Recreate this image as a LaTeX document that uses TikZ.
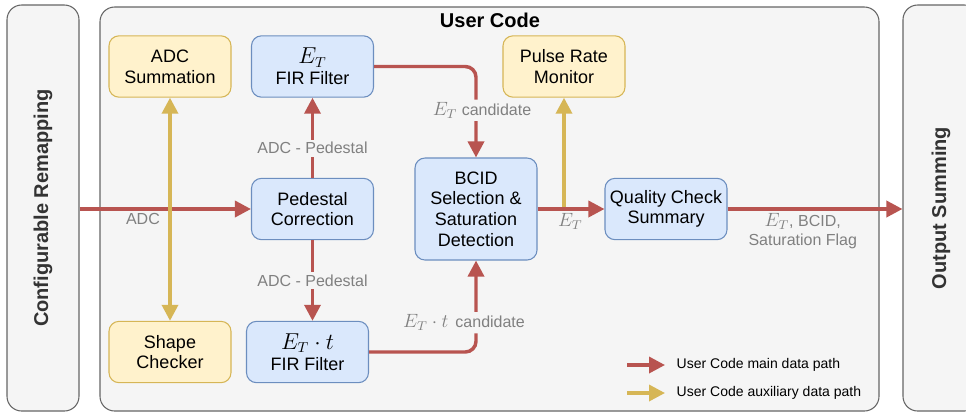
\documentclass[tikz,border=0pt]{standalone}
\usepackage{fontspec}
\setmainfont{Liberation Sans}
\usepackage{amsmath}
\usepackage{graphicx}
\usepackage{tikz}
\usetikzlibrary{arrows.meta,calc,positioning}
\definecolor{panelbg}{HTML}{F5F5F5}
\definecolor{paneledge}{HTML}{666666}
\definecolor{blfill}{HTML}{DAE8FC}
\definecolor{bledge}{HTML}{6C8EBF}
\definecolor{ylfill}{HTML}{FFF2CC}
\definecolor{yledge}{HTML}{D6B656}
\definecolor{mainred}{HTML}{B85450}
\definecolor{lblgray}{HTML}{808080}
\definecolor{sidetext}{HTML}{333333}
\newcommand{\mbig}[1]{\scalebox{1.2}{$#1$}}

\begin{document}
\begin{tikzpicture}[x=0.75pt,y=-0.75pt,
  panel/.style={draw=paneledge,fill=panelbg,rounded corners=11pt,line width=0.8pt},
  sidebox/.style={panel,rotate=90,minimum width=304.5pt,font=\fontsize{15}{18}\selectfont\bfseries,text=sidetext},
  blk/.style={draw,rounded corners=7.5pt,line width=0.8pt,minimum width=91.5pt,minimum height=46pt,inner sep=0pt,align=center,font=\fontsize{13.5}{15.5}\selectfont},
  bluebox/.style={blk,draw=bledge,fill=blfill},
  yellowbox/.style={blk,draw=yledge,fill=ylfill},
  main/.style={draw=mainred,line width=2.6pt,-{Triangle[length=12pt,width=12pt]}},
  aux/.style={draw=yledge,line width=2.6pt,-{Triangle[length=12pt,width=12pt]}},
  auxboth/.style={aux,{Triangle[length=12pt,width=12pt]}-{Triangle[length=12pt,width=12pt]}},
  lbl/.style={text=lblgray,font=\fontsize{12}{14}\selectfont,align=center,inner sep=2pt},
  lblon/.style={lbl,fill=panelbg},
  legtext/.style={font=\fontsize{10.5}{12}\selectfont,anchor=west}]
  \clip (0,0) rectangle (966,412);
  \node[sidebox,minimum height=54pt] (remap) at (43,208) {Configurable Remapping};
  \node[panel,minimum width=584.25pt,minimum height=303pt] (user) at (489.5,209) {};
  \node[sidebox,minimum height=57pt] (outsum) at (941,208) {Output Summing};
  \node[font=\fontsize{15}{18}\selectfont\bfseries] (title) at (490,20) {User Code};

  \node[yellowbox] (adcsum) at (170,66.5) {ADC\\Summation};
  \node[bluebox] (etfir) at (312.5,66.5) {\mbig{E_T}\\FIR Filter};
  \node[yellowbox] (prm) at (564,66.5) {Pulse Rate\\Monitor};
  \node[bluebox] (ped) at (312.5,209) {Pedestal\\Correction};
  \node[bluebox,minimum height=76.5pt] (bcid) at (476,209) {BCID\\Selection \&\\Saturation\\Detection};
  \node[bluebox] (qc) at (666,209) {Quality Check\\Summary};
  \node[yellowbox] (shape) at (170,352) {Shape\\Checker};
  \node[bluebox] (ettfir) at (307.5,352) {\mbig{E_T\cdot t}\\FIR Filter};

  \draw[aux] (prm.south |- bcid.east) -- (prm.south);
  \draw[main] (remap.south |- ped.west) -- node[lbl,below,pos=0.37] (adclbl) {ADC} (ped.west);
  \draw[auxboth] (adcsum.south) -- (shape.north);
  \draw[main] (ped.north -| etfir.south) -- node[lblon,pos=0.37] (pedlbla) {ADC - Pedestal} (etfir.south);
  \draw[main] (ped.south) -- node[lblon,pos=0.5] (pedlblb) {ADC - Pedestal} (ped.south |- ettfir.north);
  \draw[main,rounded corners=8pt] (etfir.east) -| node[lblon,pos=0.74,xshift=4.5pt] (etcand) {\mbig{E_T} candidate} (bcid.north);
  \draw[main,rounded corners=8pt] (ettfir.east) -| node[lblon,pos=0.66,xshift=-9pt] (ettcand) {\mbig{E_T\cdot t}\, candidate} (bcid.south);
  \draw[main] (bcid.east) -- node[lbl,below,pos=0.49] (etlbl) {\mbig{E_T}} (qc.west);
  \draw[main] (qc.east) -- node[lbl,below,pos=0.43] (outlbl) {\mbig{E_T}, BCID,\\Saturation Flag} (outsum.north |- qc.east);

  \coordinate (leg1a) at (627,365);
  \coordinate (leg1b) at (665,365);
  \coordinate (leg2a) at (627,393);
  \coordinate (leg2b) at (665,393);
  \draw[main] (leg1a) -- (leg1b);
  \draw[aux] (leg2a) -- (leg2b);
  \node[legtext] (leg1) at (672,365) {User Code main data path};
  \node[legtext] (leg2) at (672,393) {User Code auxiliary data path};
\end{tikzpicture}
\end{document}
